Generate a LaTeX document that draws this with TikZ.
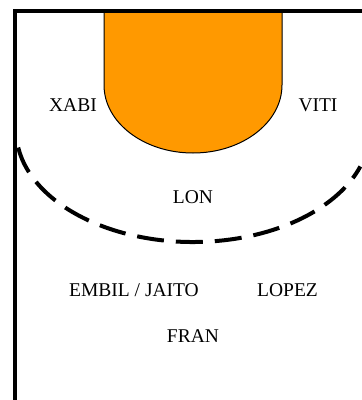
\documentclass[tikz,border=0pt]{standalone}
\usepackage{fontspec}
\setmainfont{Liberation Serif}
\usepackage{xcolor}
\usetikzlibrary{positioning}
\definecolor{keyorange}{HTML}{FF9900}

\begin{document}
\begin{tikzpicture}[x=1pt,y=-1pt,
  player/.style={anchor=base,inner sep=0pt,font=\fontsize{19.5}{20}\selectfont},
  court/.style={line width=4pt}]
\useasboundingbox (0,0) rectangle (362,400);
\coordinate (keyL) at (104,11);
\coordinate (keyR) at (282,11);
\fill[keyorange,draw=black,line width=1pt] (keyL) -- (104,85)
  arc[start angle=180,end angle=0,x radius=89,y radius=68] -- (keyR) -- cycle;
\draw[court,dash pattern=on 27pt off 12pt] (193,130) ++(171:177 and 112)
  arc[start angle=171,end angle=19,x radius=177,y radius=112];
\draw[court] (15.3,400) -- (15.3,11.3) -- (362,11.3);

\node[player] (xabi) at (73,111) {XABI};
\node[player] (viti) at (318,111) {VITI};
\node[player] (lon) at (193,203) {LON};
\node[player] (embil) at (134,296) {EMBIL / JAITO};
\node[player] (lopez) at (287.5,296) {LOPEZ};
\node[player] (fran) at (193,342) {FRAN};
\end{tikzpicture}
\end{document}
